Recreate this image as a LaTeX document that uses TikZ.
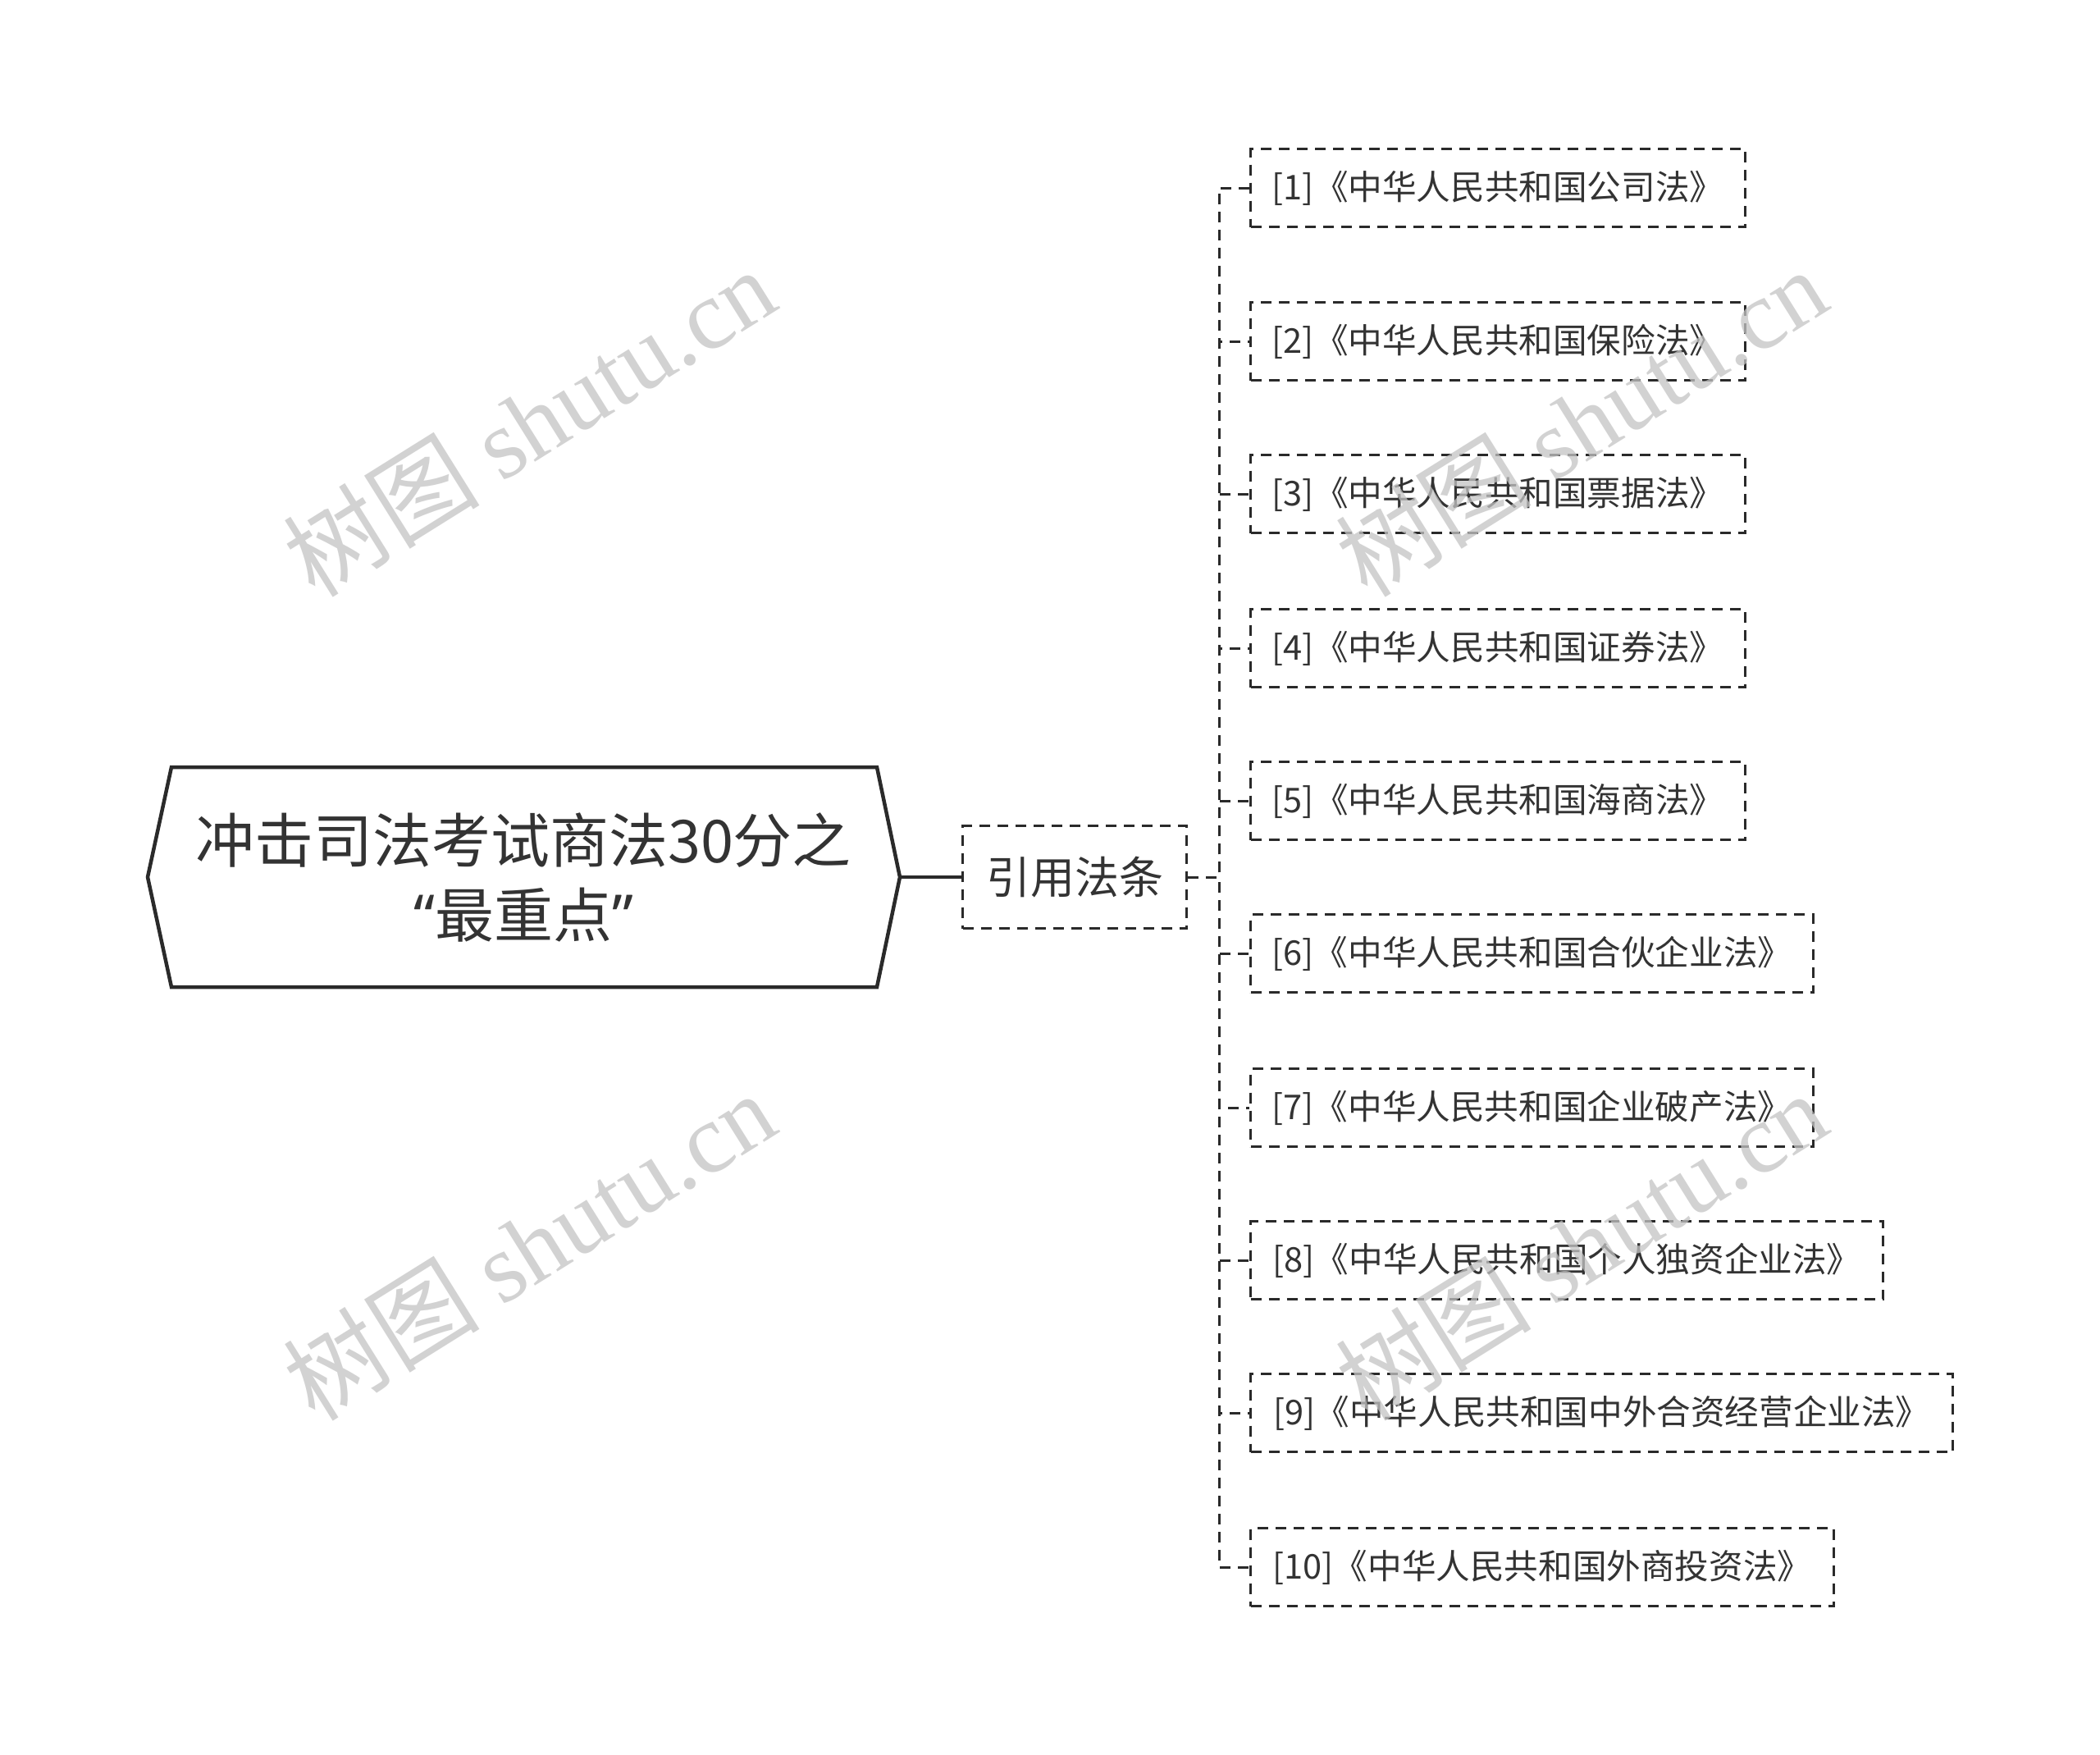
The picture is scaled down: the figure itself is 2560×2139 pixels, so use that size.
\documentclass[tikz,border=0pt]{standalone}
\usepackage{fontspec}
\newfontfamily\cjk{Noto Sans CJK SC}
\newfontfamily\latq{Noto Sans}
\newfontfamily\wmserif{Liberation Serif}
\definecolor{txt}{HTML}{333333}
\definecolor{ln}{HTML}{2A2A2A}
\definecolor{wmc}{HTML}{C4C4C4}
\tikzset{
  roottext/.style={align=center,text=txt,font=\cjk\fontsize{72}{91}\selectfont,inner sep=0pt},
  rootline/.style={draw=ln,line width=4.5pt,line join=miter,fill=white},
  midbox/.style={draw=ln,line width=3pt,dash pattern=on 13pt off 9pt,text=txt,
    font=\cjk\fontsize{54}{60}\selectfont,minimum width=273pt,minimum height=125pt,inner sep=0pt,fill=white},
  leafbox/.style={draw=ln,line width=3pt,dash pattern=on 13pt off 9pt,text=txt,
    font=\cjk\fontsize{41.6}{50}\selectfont,minimum height=95pt,inner sep=0pt,anchor=west,fill=white},
  conn/.style={draw=ln,line width=3pt,dash pattern=on 13pt off 9pt},
  solidconn/.style={draw=ln,line width=4pt},
  wm/.style={text=wmc,opacity=0.75,font=\cjk\fontsize{120}{120}\selectfont,rotate=32,inner sep=0pt}
}
\begin{document}
\begin{tikzpicture}[x=1pt,y=-1pt]
\useasboundingbox[fill=white] (0,0) rectangle (2560,2139);
% root hexagon
\coordinate (rootW) at (180,1069);
\coordinate (rootE) at (1097,1069);
\draw[rootline] (rootW) -- (209,935) -- (1069,935) -- (rootE) -- (1069,1203) -- (209,1203) -- cycle;
\node[roottext] (root) at (638,1069) {冲击司法考试商法30分之\\{\latq “}最重点{\latq ”}};
% middle node
\node[midbox] (mid) at (1310,1069) {引用法条};
\draw[solidconn] (rootE) -- (mid.west);
% leaves
\node[leafbox,minimum width=603pt] (l1) at (1523,229) {[1]《中华人民共和国公司法》};
\node[leafbox,minimum width=603pt] (l2) at (1523,416) {[2]《中华人民共和国保险法》};
\node[leafbox,minimum width=603pt] (l3) at (1523,602) {[3]《中华人民共和国票据法》};
\node[leafbox,minimum width=603pt] (l4) at (1523,790) {[4]《中华人民共和国证券法》};
\node[leafbox,minimum width=603pt] (l5) at (1523,976) {[5]《中华人民共和国海商法》};
\node[leafbox,minimum width=686pt] (l6) at (1523,1162) {[6]《中华人民共和国合伙企业法》};
\node[leafbox,minimum width=686pt] (l7) at (1523,1350) {[7]《中华人民共和国企业破产法》};
\node[leafbox,minimum width=771pt] (l8) at (1523,1536) {[8]《中华人民共和国个人独资企业法》};
\node[leafbox,minimum width=856pt] (l9) at (1523,1722) {[9]《中华人民共和国中外合资经营企业法》};
\node[leafbox,minimum width=711pt] (l10) at (1523,1910) {[10]《中华人民共和国外商投资法》};
\coordinate (trunk) at (1486,1069);
\foreach \i in {1,...,10}{
  \draw[conn] (mid.east) -- (trunk) |- (l\i.west);
}
% watermarks
\node[wm] (w1) at (645,514) {树图 {\wmserif shutu.cn}};
\node[wm] (w2) at (1927,514) {树图 {\wmserif shutu.cn}};
\node[wm] (w3) at (645,1518) {树图 {\wmserif shutu.cn}};
\node[wm] (w4) at (1927,1518) {树图 {\wmserif shutu.cn}};
\end{tikzpicture}
\end{document}
